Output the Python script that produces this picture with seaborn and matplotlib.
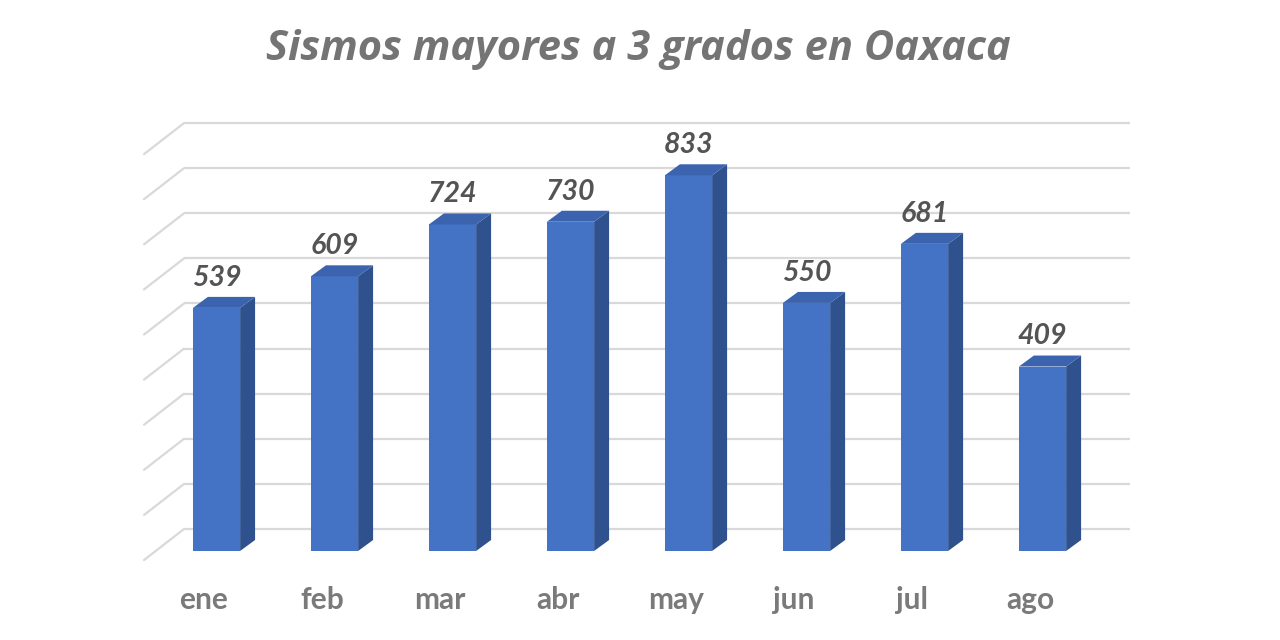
import matplotlib
matplotlib.use("Agg")
import matplotlib.pyplot as plt
import seaborn as sns
import numpy as np

# Datos del grafico
meses = ["ene", "feb", "mar", "abr", "may", "jun", "jul", "ago"]
sismos = [539, 609, 724, 730, 833, 550, 681, 409]
grid_vals = list(range(0, 1000, 100))
titulo = "Sismos mayores a 3 grados en Oaxaca"

sns.set_theme(style="white")
plt.rcParams['font.family'] = ['Lato', 'DejaVu Sans']

fig = plt.figure(figsize=(12.8, 6.4), dpi=100)
ax = fig.add_axes([0.07695, 0.0122, 0.8758, 0.8316])

# pseudo-3D offsets (in data units)
bar_w = 0.4
depth_dx = 0.127      # side face depth along x
depth_dy = 24.4       # side face depth along y
back_dy = 48.8        # back wall offset of gridlines
wall_left, wall_right = -0.275, 7.74
front_left, front_dy = -0.614, -20

# gridlines on back wall + diagonals on the left wall
for v in grid_vals:
    ax.plot([wall_left, wall_right], [v + back_dy, v + back_dy],
            color="#d9d9d9", lw=1.6, zorder=0, solid_capstyle="butt")
    ax.plot([front_left, wall_left], [v + front_dy, v + back_dy],
            color="#d9d9d9", lw=1.6, zorder=0)

# front faces
sns.barplot(x=meses, y=sismos, color="#4472C4", saturation=1,
            width=bar_w, ax=ax, zorder=3, linewidth=0)

for i, v in enumerate(sismos):
    r = i + bar_w / 2
    l = i - bar_w / 2
    # side face
    ax.fill([r, r + depth_dx, r + depth_dx, r], [0, depth_dy, v + depth_dy, v],
            color="#2F528F", zorder=2, lw=0)
    # top face
    ax.fill([l, r, r + depth_dx, l + depth_dx], [v, v, v + depth_dy, v + depth_dy],
            color="#3B63AE", zorder=4, lw=0)
    # value label
    ax.annotate(str(v), (i, v), xytext=(0, 16), textcoords="offset points",
                ha="center", va="baseline", fontsize=20.5, fontweight="bold",
                fontstyle="italic", color="#545454")
    # category label
    ax.annotate(meses[i], (i, 0), xytext=(-9, -35), textcoords="offset points",
                ha="center", va="center", fontsize=21.5, fontweight="bold",
                color="#7a7a7a")

ax.set_xlim(-1, 8.5)
ax.set_ylim(-180, 1000)
ax.axis("off")

fig.text(0.4985, 1 - 50 / 640, titulo, ha="center", va="center",
         fontsize=30, fontweight="bold", fontstyle="italic", color="#747474",
         family=["Open Sans", "Lato", "DejaVu Sans"])

fig.savefig("out.png", dpi=100, facecolor="white")
